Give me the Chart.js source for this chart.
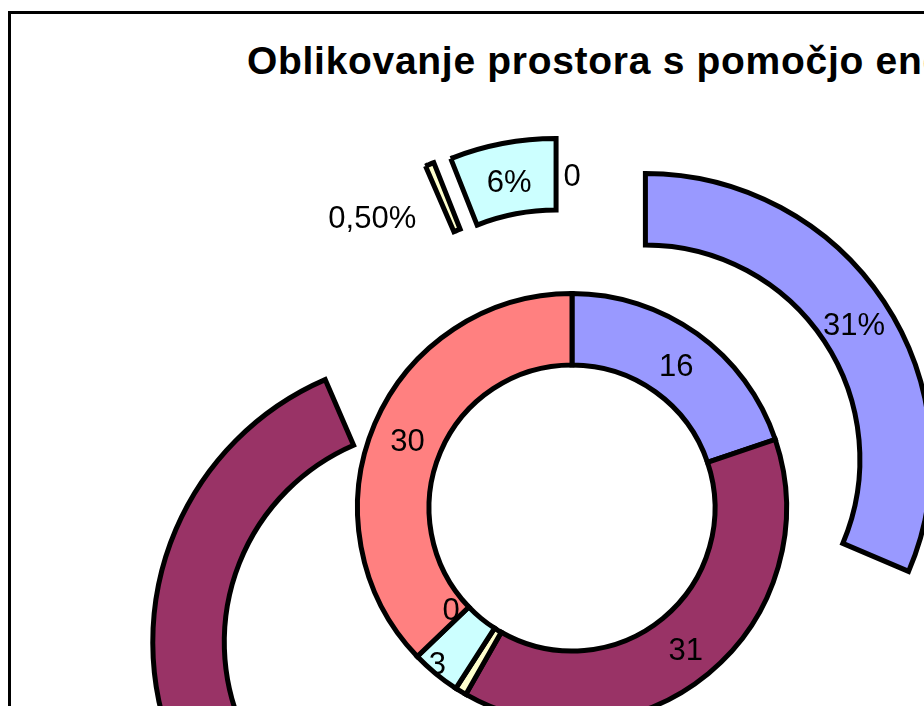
<!DOCTYPE html>
<html>
<head>
<meta charset="utf-8">
<script src="https://cdn.jsdelivr.net/npm/chart.js@4.4.1/dist/chart.umd.min.js"></script>
<style>
  html, body { margin: 0; padding: 0; width: 924px; height: 706px; overflow: hidden; background: #fff; }
  #frame { position: absolute; left: 8px; top: 11px; width: 1300px; height: 1100px; border: 3px solid #000; box-sizing: border-box; }
  #title { position: absolute; left: 247px; top: 41px; font: bold 39px "Liberation Sans", Arial, sans-serif; line-height: 39px; letter-spacing: 0.7px; white-space: nowrap; color: #000; }
  #chart { position: absolute; left: 0; top: 0; }
</style>
</head>
<body>
<div id="frame"></div>
<div id="title">Oblikovanje prostora s pomočjo energije</div>
<canvas id="chart" width="1144" height="1016"></canvas>
<script>
// categories (legend is outside the visible crop)
const categories = ["1", "2", "3", "4", "5", "6"];
// outer ring, percent
const outerValues = [31.4, 62.1, 0.5, 6, 0];
// inner ring, counts
const innerValues = [16, 31, 0.7, 3, 0, 30];

const colors = ["#9999FF", "#993366", "#FFFFCC", "#CCFFFF", "#660066", "#FF8080"];
// how far each outer slice is pulled out, px
const outerExplode = [88, 189, 86, 85, 85];
// label nudges where excel moved them
const outerNudge = { 2: [-71, 17] };
const innerNudge = { 3: [-21, 14], 4: [8, -25] };
const innerHidden = [2];

function fmtPercent(v) {
  if (v === 0) return "0";
  if (v < 1) return v.toFixed(2).replace(".", ",") + "%";
  return Math.round(v) + "%";
}
function fmtCount(v) {
  return String(Math.round(v));
}

const explodePlugin = {
  id: "explode",
  afterDatasetsUpdate(chart) {
    chart.getDatasetMeta(0).data.forEach((arc, i) => {
      const d = outerExplode[i] || 0;
      const mid = (arc.startAngle + arc.endAngle) / 2;
      arc.x += Math.cos(mid) * d;
      arc.y += Math.sin(mid) * d;
    });
  }
};

const labelPlugin = {
  id: "sliceLabels",
  afterDatasetsDraw(chart) {
    const ctx = chart.ctx;
    const rings = [
      { index: 0, values: outerValues, fmt: fmtPercent, nudge: outerNudge, hidden: [] },
      { index: 1, values: innerValues, fmt: fmtCount, nudge: innerNudge, hidden: innerHidden }
    ];
    ctx.save();
    ctx.font = '31px "Liberation Sans", Arial, sans-serif';
    ctx.fillStyle = "#000";
    ctx.textAlign = "center";
    ctx.textBaseline = "middle";
    rings.forEach(ring => {
      chart.getDatasetMeta(ring.index).data.forEach((arc, i) => {
        if (ring.hidden.includes(i)) return;
        const p = arc.getCenterPoint();
        const n = ring.nudge[i] || [0, 0];
        ctx.fillText(ring.fmt(ring.values[i]), p.x + n[0], p.y + n[1] + 5);
      });
    });
    ctx.restore();
  }
};

new Chart(document.getElementById("chart"), {
  type: "doughnut",
  data: {
    labels: categories,
    datasets: [{
      data: outerValues,
      backgroundColor: colors,
      borderColor: "#000",
      borderWidth: 5,
      borderJoinStyle: "miter"
    }, {
      data: innerValues,
      backgroundColor: colors,
      borderColor: "#000",
      borderWidth: 5,
      borderJoinStyle: "miter"
    }]
  },
  options: {
    responsive: false,
    animation: false,
    radius: 286,
    cutout: "50%",
    plugins: {
      legend: { display: false },
      tooltip: { enabled: false }
    }
  },
  plugins: [explodePlugin, labelPlugin]
});
</script>
</body>
</html>
